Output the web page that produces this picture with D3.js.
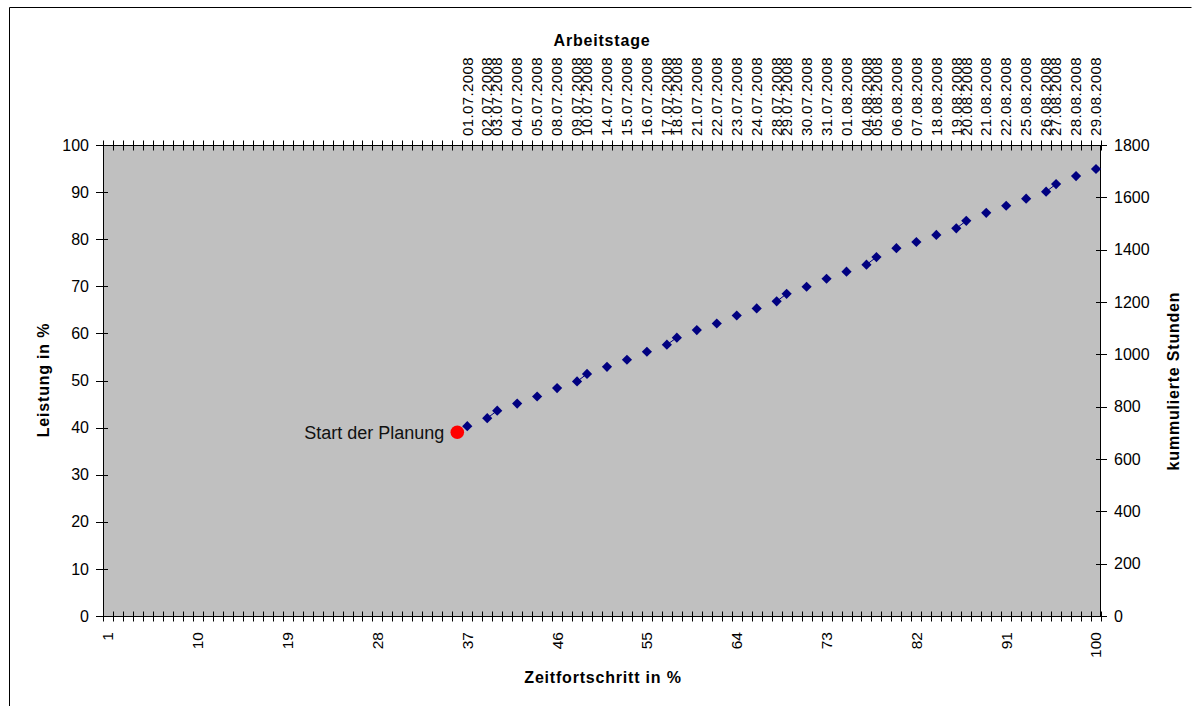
<!DOCTYPE html>
<html lang="de">
<head>
    <meta charset="UTF-8">
    <title>Leistung vs Zeitfortschritt</title>
    <script src="https://d3js.org/d3.v7.min.js"></script>
    <style>
        body { margin: 0; background: #fff; }
        svg { font-family: "Liberation Sans", Arial, sans-serif; }
    </style>
</head>
<body>
    <svg></svg>
    <script>
        const width = 1200;
        const height = 706;

        // Daten
        const categories = d3.range(1, 101);          // Zeitfortschritt 1..100 %
        const bottomLabels = [1, 10, 19, 28, 37, 46, 55, 64, 73, 82, 91, 100];
        const dates = ['01.07.2008', '02.07.2008', '03.07.2008', '04.07.2008', '05.07.2008', '08.07.2008',
            '09.07.2008', '10.07.2008', '14.07.2008', '15.07.2008', '16.07.2008', '17.07.2008',
            '18.07.2008', '21.07.2008', '22.07.2008', '23.07.2008', '24.07.2008', '28.07.2008',
            '29.07.2008', '30.07.2008', '31.07.2008', '01.08.2008', '04.08.2008', '05.08.2008',
            '06.08.2008', '07.08.2008', '18.08.2008', '19.08.2008', '20.08.2008', '21.08.2008',
            '22.08.2008', '25.08.2008', '26.08.2008', '27.08.2008', '28.08.2008', '29.08.2008'];
        const datePos = [37, 39, 40, 42, 44, 46, 48, 49, 51, 53, 55, 57, 58, 60, 62, 64, 66, 68,
            69, 71, 73, 75, 77, 78, 80, 82, 84, 86, 87, 89, 91, 93, 95, 96, 98, 100];
        const leistung = [40.3, 42.0, 43.6, 45.1, 46.6, 48.4, 49.8, 51.4, 52.9, 54.4, 56.1, 57.6,
            59.1, 60.7, 62.1, 63.8, 65.3, 66.8, 68.4, 69.9, 71.6, 73.1, 74.6, 76.2, 78.1, 79.4,
            80.9, 82.3, 83.9, 85.6, 87.1, 88.6, 90.1, 91.7, 93.4, 94.9];
        const startPos = 36;
        const startValue = 39;
        const startLabel = 'Start der Planung';

        const margin = {left: 103, right: 99, top: 145, bottom: 90};
        const w = width - margin.left - margin.right;
        const h = height - margin.top - margin.bottom;

        const svg = d3.select("svg")
            .attr("width", width)
            .attr("height", height);

        // Rahmen
        svg.append('path')
            .attr('d', `M9.5,${height + 5} V7.5 H1191.5`)
            .attr('fill', 'none')
            .attr('stroke', '#000');

        const x = d3.scaleBand()
            .domain(categories)
            .range([0, w]);
        const xc = d => x(d) + x.bandwidth() / 2;

        const y = d3.scaleLinear().domain([0, 100]).range([h, 0]);
        const y2 = d3.scaleLinear().domain([0, 1800]).range([h, 0]);

        const g = svg.append('g')
            .attr("transform", `translate(${margin.left}, ${margin.top})`);

        g.append('rect')
            .attr('width', w)
            .attr('height', h)
            .attr('fill', '#c0c0c0');

        // Kategorie-Grenzen für Ticks
        const bounds = d3.range(0, categories.length + 1).map(i => i * x.step());

        function catTicks(yPos) {
            const t = g.append('g');
            t.append('line')
                .attr('x1', 0).attr('x2', w)
                .attr('y1', yPos).attr('y2', yPos)
                .attr('stroke', '#000');
            t.selectAll('line.tk')
                .data(bounds)
                .enter()
                .append('line')
                    .attr('class', 'tk')
                    .attr('x1', d => Math.round(d) + 0.5).attr('x2', d => Math.round(d) + 0.5)
                    .attr('y1', yPos - 5).attr('y2', yPos + 5)
                    .attr('stroke', '#000');
        }
        catTicks(h + 0.5);
        catTicks(0.5);

        // untere Beschriftung
        g.selectAll('text.bl')
            .data(bottomLabels)
            .enter()
            .append('text')
                .attr('class', 'bl')
                .attr('transform', d => `translate(${xc(d)}, ${h + 16}) rotate(-90)`)
                .attr('dy', '0.35em')
                .attr('text-anchor', 'end')
                .attr('font-size', 15.5)
                .text(d => d);

        // obere Beschriftung (Arbeitstage)
        g.selectAll('text.tl')
            .data(dates)
            .enter()
            .append('text')
                .attr('class', 'tl')
                .attr('transform', (d, i) => `translate(${xc(datePos[i])}, -9) rotate(-90)`)
                .attr('dy', '0.35em')
                .attr('text-anchor', 'start')
                .attr('font-size', 15)
                .attr('letter-spacing', 0.4)
                .text(d => d);

        // linke Achse
        const yl = g.append('g');
        yl.append('line').attr('x1', 0.5).attr('x2', 0.5).attr('y1', 0).attr('y2', h).attr('stroke', '#000');
        const yt = y.ticks(10);
        yl.selectAll('line.tk').data(yt).enter().append('line')
            .attr('x1', -7).attr('x2', 5)
            .attr('y1', d => Math.round(y(d)) + 0.5).attr('y2', d => Math.round(y(d)) + 0.5)
            .attr('stroke', '#000');
        yl.selectAll('text').data(yt).enter().append('text')
            .attr('x', -14).attr('y', d => y(d))
            .attr('dy', '0.35em')
            .attr('text-anchor', 'end')
            .attr('font-size', 16)
            .text(d => d);

        // rechte Achse
        const yr = g.append('g').attr('transform', `translate(${w}, 0)`);
        yr.append('line').attr('x1', -0.5).attr('x2', -0.5).attr('y1', 0).attr('y2', h).attr('stroke', '#000');
        const y2t = d3.range(0, 1801, 200);
        yr.selectAll('line.tk').data(y2t).enter().append('line')
            .attr('x1', -5).attr('x2', 6)
            .attr('y1', d => Math.round(y2(d)) + 0.5).attr('y2', d => Math.round(y2(d)) + 0.5)
            .attr('stroke', '#000');
        yr.selectAll('text').data(y2t).enter().append('text')
            .attr('x', 13).attr('y', d => y2(d))
            .attr('dy', '0.35em')
            .attr('text-anchor', 'start')
            .attr('font-size', 16)
            .text(d => d);

        // Achsentitel
        const title = (txt, tx, ty, rot) => svg.append('text')
            .attr('transform', `translate(${tx}, ${ty})` + (rot ? ' rotate(-90)' : ''))
            .attr('text-anchor', 'middle')
            .attr('font-size', 16)
            .attr('font-weight', 'bold')
            .attr('letter-spacing', 0.8)
            .text(txt);
        title('Arbeitstage', 602, 46, false);
        title('Zeitfortschritt in %', 603, 683, false);
        title('Leistung in %', 49, 380, true);
        title('kummulierte Stunden', 1179, 381, true);

        // Linie nur zwischen benachbarten Kategorien
        const series = categories.map(c => {
            const i = datePos.indexOf(c);
            return {c: c, v: i >= 0 ? leistung[i] : null};
        });
        const line = d3.line()
            .defined(d => d.v !== null)
            .x(d => xc(d.c))
            .y(d => y(d.v));
        g.append('path')
            .datum(series)
            .attr('fill', 'none')
            .attr('stroke', '#000080')
            .attr('stroke-width', 1)
            .attr('d', line);

        // Punkte
        g.selectAll('path.pt')
            .data(datePos)
            .enter()
            .append('path')
                .attr('class', 'pt')
                .attr('d', d3.symbol().type(d3.symbolSquare).size(52))
                .attr('transform', (d, i) => `translate(${xc(d)}, ${y(leistung[i])}) rotate(45)`)
                .attr('fill', '#000080');

        // Start der Planung
        g.append('circle')
            .attr('cx', xc(startPos))
            .attr('cy', y(startValue))
            .attr('r', 6.8)
            .attr('fill', '#ff0000');
        g.append('text')
            .attr('x', xc(startPos) - 13)
            .attr('y', y(startValue))
            .attr('dy', '0.35em')
            .attr('text-anchor', 'end')
            .attr('font-size', 18)
            .attr('fill', '#111')
            .text(startLabel);
    </script>
</body>
</html>
